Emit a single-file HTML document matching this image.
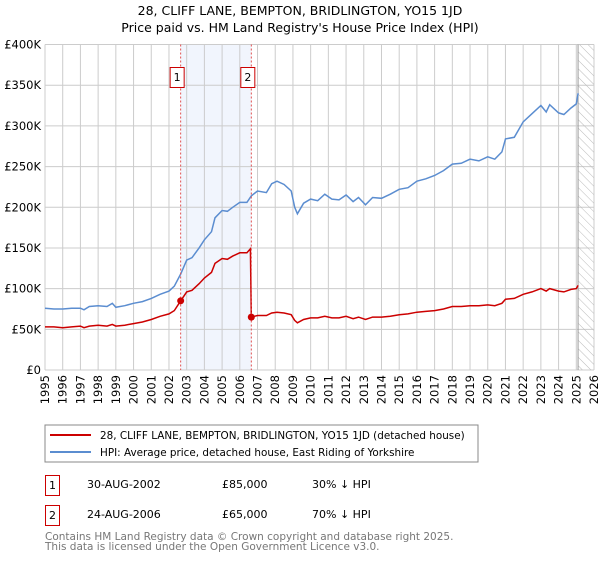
<!DOCTYPE html>
<html><head><meta charset="utf-8"><style>
body{margin:0;background:#fff;font-family:"Liberation Sans","DejaVu Sans",sans-serif}
svg text{font-family:"DejaVu Sans","Liberation Sans",sans-serif}
</style></head><body>
<svg id="c" width="600" height="560" xmlns="http://www.w3.org/2000/svg">
<defs><pattern id="hatch" width="6" height="6" patternUnits="userSpaceOnUse" patternTransform="rotate(-45)"><line x1="0" y1="0" x2="0" y2="6" stroke="#bbb" stroke-width="1"/></pattern></defs>
<text x="300" y="15" text-anchor="middle" font-size="12.5">28, CLIFF LANE, BEMPTON, BRIDLINGTON, YO15 1JD</text>
<text x="300" y="32" text-anchor="middle" font-size="12.5">Price paid vs. HM Land Registry's House Price Index (HPI)</text>
<g id="grid"></g><g id="plot"></g>
<rect x="45" y="425" width="433" height="37" fill="#fff" stroke="#888"/>
<line x1="50" y1="435" x2="91" y2="435" stroke="#cc0000" stroke-width="2"/>
<text x="100" y="439" font-size="10.4">28, CLIFF LANE, BEMPTON, BRIDLINGTON, YO15 1JD (detached house)</text>
<line x1="50" y1="452" x2="91" y2="452" stroke="#5b8dd0" stroke-width="2"/>
<text x="100" y="456" font-size="10.4">HPI: Average price, detached house, East Riding of Yorkshire</text>
<rect x="45.5" y="475.5" width="14" height="20" fill="none" stroke="#cc0000"/>
<text x="52.5" y="489" text-anchor="middle" font-size="11">1</text>
<text x="87" y="488" font-size="11">30-AUG-2002</text>
<text x="222" y="488" font-size="11">£85,000</text>
<text x="312" y="488" font-size="11">30% ↓ HPI</text>
<rect x="45.5" y="505.5" width="14" height="20" fill="none" stroke="#cc0000"/>
<text x="52.5" y="519" text-anchor="middle" font-size="11">2</text>
<text x="87" y="518" font-size="11">24-AUG-2006</text>
<text x="222" y="518" font-size="11">£65,000</text>
<text x="312" y="518" font-size="11">70% ↓ HPI</text>
<text x="45" y="540" font-size="10.5" fill="#777">Contains HM Land Registry data © Crown copyright and database right 2025.</text>
<text x="45" y="550" font-size="10.5" fill="#777">This data is licensed under the Open Government Licence v3.0.</text>
</svg>
<script>
const hpiDates=[1995,1995.5,1996,1996.5,1997,1997.2,1997.5,1998,1998.5,1998.8,1999,1999.5,2000,2000.5,2001,2001.5,2002,2002.3,2002.66,2003,2003.3,2003.7,2004,2004.4,2004.6,2005,2005.3,2005.6,2006,2006.4,2006.65,2007,2007.5,2007.8,2008.1,2008.5,2008.9,2009.1,2009.25,2009.6,2010,2010.4,2010.8,2011.2,2011.6,2012,2012.4,2012.7,2013.1,2013.5,2014,2014.5,2015,2015.5,2016,2016.5,2017,2017.5,2018,2018.5,2019,2019.5,2020,2020.4,2020.8,2021,2021.5,2022,2022.5,2023,2023.3,2023.5,2024,2024.3,2024.7,2025,2025.1];
const hpiValues=[76,75,75,76,76,74,78,79,78,82,77,79,82,84,88,93,97,103,118,135,138,150,160,170,187,196,195,200,206,206,214,220,218,229,232,228,220,200,192,205,210,208,216,210,209,215,207,212,203,212,211,216,222,224,232,235,239,245,253,254,259,257,262,259,268,284,286,305,315,325,317,326,316,314,322,327,340];
const propDates=[1995,1995.5,1996,1996.5,1997,1997.2,1997.5,1998,1998.5,1998.8,1999,1999.5,2000,2000.5,2001,2001.5,2002,2002.3,2002.66,2003,2003.3,2003.7,2004,2004.4,2004.6,2005,2005.3,2005.6,2006,2006.4,2006.6,2006.65,2007,2007.5,2007.8,2008.1,2008.5,2008.9,2009.1,2009.25,2009.6,2010,2010.4,2010.8,2011.2,2011.6,2012,2012.4,2012.7,2013.1,2013.5,2014,2014.5,2015,2015.5,2016,2016.5,2017,2017.5,2018,2018.5,2019,2019.5,2020,2020.4,2020.8,2021,2021.5,2022,2022.5,2023,2023.3,2023.5,2024,2024.3,2024.7,2025,2025.1];
const propValues=[53,53,52,53,54,52,54,55,54,56,54,55,57,59,62,66,69,73,85,96,98,106,113,120,131,137,136,140,144,144,149,65,67,67,70,71,70,68,61,58,62,64,64,66,64,64,66,63,65,62,65,65,66,68,69,71,72,73,75,78,78,79,79,80,79,82,87,88,93,96,100,97,100,97,96,99,100,104];
const saleDates=[2002.66,2006.65];
const salePrices=[85,65];
const saleLabels=["1","2"];
const yTicks=[0,50,100,150,200,250,300,350,400];
const yTickLabels=["£0","£50K","£100K","£150K","£200K","£250K","£300K","£350K","£400K"];
const xTicks=[];for(let y=1995;y<=2026;y++)xTicks.push(y);
const futureStart=2025.1;

const X0=45,X1=594,Y0=370,Y1=44.5;
const xs=d=>X0+(d-1995)/(2026-1995)*(X1-X0);
const ys=v=>Y0-v/400*(Y0-Y1);
const NS="http://www.w3.org/2000/svg";
const grid=document.getElementById('grid'),plot=document.getElementById('plot');
function mk(tag,attrs,parent){const e=document.createElementNS(NS,tag);for(const k in attrs)e.setAttribute(k,attrs[k]);parent.appendChild(e);return e;}

let bg=mk('rect',{x:X0,y:Y1,width:X1-X0,height:Y0-Y1,fill:'#fff'},grid);


let sh=mk('rect',{x:xs(saleDates[0]),y:Y1,width:xs(saleDates[1])-xs(saleDates[0]),height:Y0-Y1,fill:'#eef3fc',opacity:0.8},grid);


xTicks.forEach(t=>{
  let l=mk('line',{x1:xs(t),x2:xs(t),y1:Y1,y2:Y0,stroke:'#ccc','stroke-width':1},grid);
  
  
  let tx=mk('text',{x:0,y:0,'font-size':11.5,'text-anchor':'end',transform:`translate(${xs(t)+4},${Y0+5}) rotate(-90)`},grid);
  tx.textContent=t;
  
  
});
yTicks.forEach((t,i)=>{
  let l=mk('line',{x1:X0,x2:X1,y1:ys(t),y2:ys(t),stroke:'#ccc','stroke-width':1},grid);
  
  
  let tx=mk('text',{x:41,y:ys(t)+4,'font-size':11.5,'text-anchor':'end'},grid);
  tx.textContent=yTickLabels[i];
  
  
});
let fut=mk('rect',{x:xs(futureStart),y:Y1,width:X1-xs(futureStart),height:Y0-Y1,fill:'url(#hatch)'},grid);


let fl=mk('line',{x1:xs(futureStart),x2:xs(futureStart),y1:Y1,y2:Y0,stroke:'#999','stroke-width':1},grid);



function path(ds,vs){return ds.map((d,i)=>(i?'L':'M')+xs(d).toFixed(1)+','+ys(vs[i]).toFixed(1)).join('');}
let hp=mk('path',{d:path(hpiDates,hpiValues),fill:'none',stroke:'#5b8dd0','stroke-width':1.5},plot);


let pp=mk('path',{d:path(propDates,propValues),fill:'none',stroke:'#cc0000','stroke-width':1.5},plot);


saleDates.forEach((d,i)=>{
  let v=mk('line',{x1:xs(d),x2:xs(d),y1:Y1,y2:Y0,stroke:'#e05050','stroke-width':1,'stroke-dasharray':'2,2'},plot);
  
  
  let c=mk('circle',{cx:xs(d),cy:ys(salePrices[i]),r:3.5,fill:'#cc0000'},plot);
  
  
  let b=mk('rect',{x:xs(d)-10.5,y:67.5,width:14,height:20,fill:'#fff',stroke:'#cc0000'},plot);
  
  
  let t=mk('text',{x:xs(d)-3.5,y:81,'font-size':11,'text-anchor':'middle'},plot);
  t.textContent=saleLabels[i];
  
  
});
</script>
</body></html>
